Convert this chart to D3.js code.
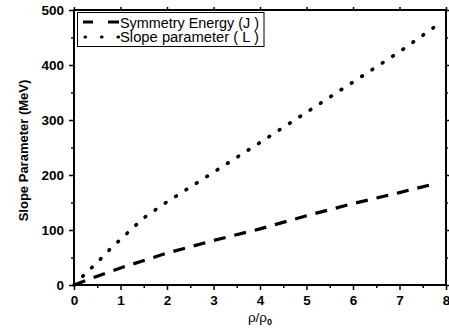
<!DOCTYPE html>
<html><head><meta charset="utf-8">
<script src="https://cdn.jsdelivr.net/npm/d3@7"></script>
<style>body{margin:0;background:#fff}svg{display:block}text{font-family:"Liberation Sans",Arial,sans-serif}</style>
</head><body><svg id="c" width="449" height="334"></svg>
<script>
const densityJ = [0, 0.5, 1, 2, 3, 4, 5, 6, 7, 7.8];
const symmetryJ = [0, 16, 31, 58, 81, 102, 126, 148, 168, 185];
const densityL = [0, 0.25, 0.5, 0.75, 1, 1.5, 2, 3, 4, 5, 6, 7, 7.8];
const slopeL = [0, 21, 41, 63, 83, 122, 151, 205, 259, 314, 369, 424, 472];
const xTicks = [0, 1, 2, 3, 4, 5, 6, 7, 8];
const yTicks = [0, 100, 200, 300, 400, 500];
const seriesNames = ["Symmetry Energy (J )", "Slope parameter ( L )"];

const svg = d3.select("#c");
const L = 74, R = 446, T = 10, B = 285;
const x = d3.scaleLinear().domain([0, 8]).range([L, R]);
const y = d3.scaleLinear().domain([0, 500]).range([B, T]);

const xMinor = d3.range(0.5, 8, 1);
const yMinor = d3.range(50, 500, 100);

svg.append("g").attr("transform", `translate(0,${B})`)
  .call(d3.axisBottom(x).tickValues(xTicks).tickSize(5).tickPadding(5).tickFormat(d3.format("d")));
svg.append("g").attr("transform", `translate(0,${B})`)
  .call(d3.axisBottom(x).tickValues(xMinor).tickSize(3).tickFormat(""));
svg.append("g").attr("transform", `translate(${L},0)`)
  .call(d3.axisLeft(y).tickValues(yTicks).tickSize(5).tickPadding(5).tickFormat(d3.format("d")));
svg.append("g").attr("transform", `translate(${L},0)`)
  .call(d3.axisLeft(y).tickValues(yMinor).tickSize(3).tickFormat(""));
svg.append("g").attr("transform", `translate(${R},0)`)
  .call(d3.axisRight(y).tickValues(yTicks).tickSize(4).tickFormat(""));
svg.append("g").attr("transform", `translate(${R},0)`)
  .call(d3.axisRight(y).tickValues(yMinor).tickSize(2).tickFormat(""));
svg.append("g").attr("transform", `translate(0,${T})`)
  .call(d3.axisTop(x).tickValues(xTicks).tickSize(3).tickFormat(""));

svg.selectAll(".domain").remove();
svg.selectAll(".tick line").attr("stroke", "#000").attr("stroke-width", 1.5);
svg.selectAll(".tick text").attr("font-size", 13.5).attr("font-weight", "bold").attr("fill", "#000");

svg.append("rect").attr("x", L).attr("y", T).attr("width", R - L).attr("height", B - T)
  .attr("fill", "none").attr("stroke", "#000").attr("stroke-width", 2);

const lineJ = d3.line().x((d, i) => x(densityJ[i])).y(d => y(d));
svg.append("path").attr("d", lineJ(symmetryJ)).attr("fill", "none").attr("stroke", "#000")
  .attr("stroke-width", 3.2).attr("stroke-dasharray", "12,9");
const lineL = d3.line().x((d, i) => x(densityL[i])).y(d => y(d));
svg.append("path").attr("d", lineL(slopeL)).attr("fill", "none").attr("stroke", "#000")
  .attr("stroke-width", 3.6).attr("stroke-linecap", "round").attr("stroke-dasharray", "0.8,11.5");

// legend
const lg = svg.append("g");
lg.append("rect").attr("x", 77.5).attr("y", 12.5).attr("width", 186.5).attr("height", 34)
  .attr("fill", "#fff").attr("stroke", "#000").attr("stroke-width", 1);
lg.append("line").attr("x1", 83).attr("x2", 119).attr("y1", 22).attr("y2", 22)
  .attr("stroke", "#000").attr("stroke-width", 3).attr("stroke-dasharray", "10,15,11");
lg.append("line").attr("x1", 85).attr("x2", 119).attr("y1", 37).attr("y2", 37)
  .attr("stroke", "#000").attr("stroke-width", 3.2).attr("stroke-linecap", "round").attr("stroke-dasharray", "0.5,16");
lg.append("text").attr("x", 120).attr("y", 27.5).attr("font-size", 14)
  .attr("textLength", 139).attr("lengthAdjust", "spacingAndGlyphs").text(seriesNames[0]);
lg.append("text").attr("x", 120).attr("y", 42).attr("font-size", 14)
  .attr("textLength", 139).attr("lengthAdjust", "spacingAndGlyphs").text(seriesNames[1]);

svg.append("text").attr("transform", `translate(28,${(T + B) / 2 + 3}) rotate(-90)`)
  .attr("text-anchor", "middle").attr("font-size", 13).attr("font-weight", "bold").text("Slope Parameter (MeV)");
const xt = svg.append("text").attr("x", (L + R) / 2).attr("y", 322).attr("text-anchor", "middle").attr("font-size", 13.5);
xt.append("tspan").text("ρ/ρ");
xt.append("tspan").attr("font-size", 9).attr("font-weight", "bold").attr("dy", 3).text("0");
</script></body></html>
